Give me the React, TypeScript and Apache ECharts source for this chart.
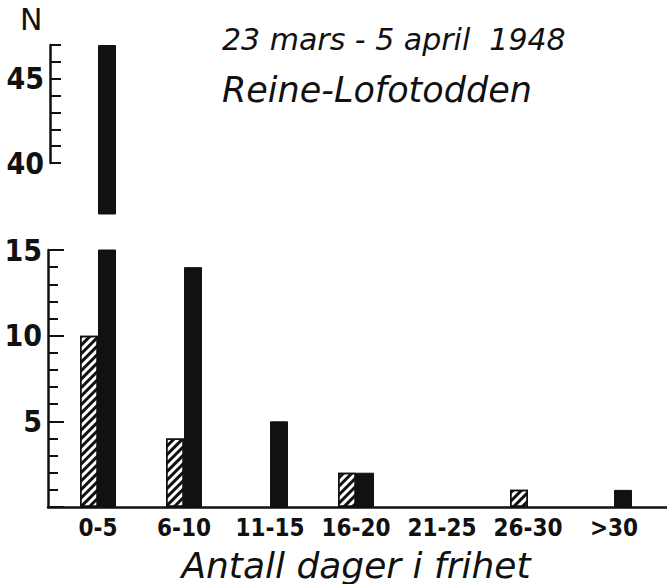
import React, { useEffect, useRef } from "react";
import * as echarts from "echarts";

const categories = ["0-5", "6-10", "11-15", "16-20", "21-25", "26-30", ">30"];
const hatchedValues = [10, 4, 0, 2, 0, 1, 0];
const blackValues = [47, 14, 5, 2, 0, 0, 1];
const titleLine1 = "23 mars - 5 april  1948";
const titleLine2 = "Reine-Lofotodden";
const xAxisTitle = "Antall dager i frihet";
const yUnit = "N";

const INK = "#111";
const NARROW = "'Liberation Sans Narrow', 'DejaVu Sans Condensed', 'Roboto Condensed', sans-serif";
const HAND = "'DejaVu Sans', sans-serif";

const toBar = (arr: number[]) => arr.map((v) => (v === 0 ? null : v));

export default function App() {
  const ref = useRef<HTMLDivElement>(null);
  useEffect(() => {
    document.body.style.margin = "0";
    const chart = echarts.init(ref.current!, null, { renderer: "svg" });
    const hatchStyle = {
      color: "#fff",
      borderColor: INK,
      borderWidth: 1.5,
      decal: {
        symbol: "rect",
        color: INK,
        dashArrayX: [1, 0],
        dashArrayY: [2.5, 3],
        rotation: -Math.PI / 4,
      },
    };
    const blackStyle = { color: INK, borderColor: INK, borderWidth: 1 };
    const hiddenCat = (gridIndex: number) => ({
      type: "category",
      gridIndex,
      data: categories,
      show: false,
    });
    chart.setOption({
      animation: false,
      backgroundColor: "#fff",
      grid: [
        { left: 55, right: 10, top: 250, bottom: 77 },
        { left: 55, right: 10, top: 45, height: 118 },
        { left: 55, right: 10, top: 45, height: 169 },
        { left: 48, right: 0, top: 250, bottom: 77 },
      ],
      xAxis: [
        {
          type: "category",
          gridIndex: 0,
          data: categories,
          axisLine: { show: false },
          axisTick: { show: false },
          axisLabel: { color: INK, fontSize: 24, fontWeight: "bold", fontFamily: NARROW, margin: 9, interval: 0 },
          name: xAxisTitle,
          nameLocation: "middle",
          nameGap: 40,
          nameTextStyle: { color: INK, fontSize: 36, fontStyle: "italic", fontFamily: HAND },
        },
        hiddenCat(1),
        hiddenCat(2),
        {
          type: "value",
          gridIndex: 3,
          min: 0,
          max: 1,
          axisLine: { show: true, lineStyle: { color: INK, width: 2.5 } },
          axisTick: { show: false },
          axisLabel: { show: false },
          splitLine: { show: false },
        },
      ],
      yAxis: [
        {
          type: "value",
          gridIndex: 0,
          min: 0,
          max: 15,
          interval: 5,
          offset: 7,
          axisLine: { show: true, lineStyle: { color: INK, width: 2.5 } },
          axisTick: { show: true, inside: true, length: 16, lineStyle: { color: INK, width: 2 } },
          minorTick: { show: true, splitNumber: 5, length: 10, lineStyle: { color: INK, width: 2 } },
          axisLabel: {
            color: INK,
            fontSize: 30,
            fontWeight: "bold",
            fontFamily: NARROW,
            margin: 6,
            formatter: (v: number) => (v === 0 ? "" : String(v)),
          },
          splitLine: { show: false },
        },
        {
          type: "value",
          gridIndex: 1,
          min: 40,
          max: 47,
          interval: 1,
          offset: 5,
          axisLine: { show: true, lineStyle: { color: INK, width: 2.5 } },
          axisTick: { show: true, inside: true, length: 11, lineStyle: { color: INK, width: 2 } },
          axisLabel: {
            color: INK,
            fontSize: 30,
            fontWeight: "bold",
            fontFamily: NARROW,
            margin: 6,
            formatter: (v: number) => (v % 5 === 0 ? String(v) : ""),
          },
          splitLine: { show: false },
        },
        { type: "value", gridIndex: 2, min: 37, max: 47, show: false },
        { type: "value", gridIndex: 3, min: 0, max: 1, show: false },
      ],
      series: [
        { type: "bar", xAxisIndex: 0, yAxisIndex: 0, data: toBar(hatchedValues), barWidth: 18, barGap: "0%", itemStyle: hatchStyle },
        { type: "bar", xAxisIndex: 0, yAxisIndex: 0, data: toBar(blackValues), barWidth: 18, barGap: "0%", itemStyle: blackStyle },
        { type: "bar", xAxisIndex: 2, yAxisIndex: 2, data: toBar(hatchedValues), barWidth: 18, barGap: "0%", itemStyle: hatchStyle },
        { type: "bar", xAxisIndex: 2, yAxisIndex: 2, data: toBar(blackValues), barWidth: 18, barGap: "0%", itemStyle: blackStyle },
      ],
      graphic: [
        {
          type: "text",
          left: 20,
          top: 4,
          style: { text: yUnit, fontSize: 30, fontFamily: HAND, fill: INK },
        },
        {
          type: "text",
          left: 222,
          top: 24,
          style: { text: titleLine1, fontSize: 30, fontStyle: "italic", fontFamily: HAND, fill: INK },
        },
        {
          type: "text",
          left: 222,
          top: 72,
          style: { text: titleLine2, fontSize: 35, fontStyle: "italic", fontFamily: HAND, fill: INK },
        },
      ],
    });
    return () => chart.dispose();
  }, []);
  return <div ref={ref} style={{ width: 667, height: 584 }} />;
}
